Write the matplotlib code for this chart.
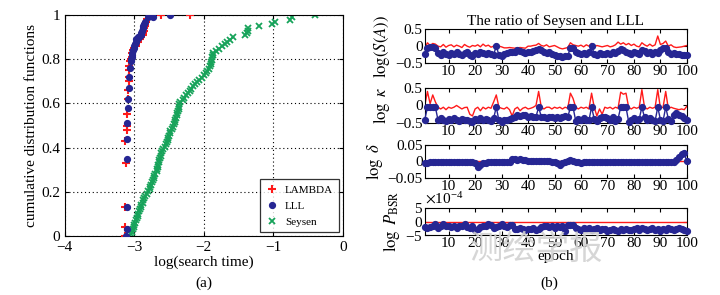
import numpy as np
import matplotlib
matplotlib.use("Agg")
import matplotlib.pyplot as plt
from matplotlib.ticker import ScalarFormatter

plt.rcParams['font.family'] = ['Liberation Serif', 'DejaVu Serif']
plt.rcParams['mathtext.fontset'] = 'stix'

# ---------------- data: (a) CDF of log(search time) ----------------
lambda_x = [-3.14, -3.14, -3.13, -3.12, -3.13, -3.11, -3.11, -3.10, -3.09, -3.09,
            -3.08, -3.08, -3.07, -3.07, -3.06, -3.05, -3.04, -3.03, -3.02, -3.00,
            -2.98, -2.97, -2.94, -2.92, -2.90, -2.88, -2.87, -2.86, -2.86, -2.85,
            -2.84, -2.83, -2.82, -2.78, -2.62, -2.20]
lambda_cdf = [0.00, 0.04, 0.13, 0.33, 0.43, 0.48, 0.50, 0.55, 0.62, 0.66,
              0.70, 0.72, 0.75, 0.77, 0.79, 0.80, 0.81, 0.83, 0.84, 0.85,
              0.86, 0.87, 0.88, 0.89, 0.90, 0.91, 0.92, 0.93, 0.94, 0.95,
              0.96, 0.97, 0.98, 1.00, 1.00, 1.00]

lll_x = [-3.12, -3.11, -3.10, -3.10, -3.10, -3.10, -3.09, -3.09, -3.08, -3.07,
         -3.06, -3.05, -3.05, -3.04, -3.03, -3.03, -3.02, -3.01, -3.00, -2.99,
         -2.98, -2.97, -2.96, -2.94, -2.93, -2.91, -2.90, -2.89, -2.88, -2.87,
         -2.86, -2.85, -2.80, -2.73, -2.49]
lll_cdf = [0.00, 0.03, 0.13, 0.35, 0.44, 0.51, 0.58, 0.62, 0.67, 0.72,
           0.76, 0.79, 0.80, 0.81, 0.82, 0.83, 0.84, 0.85, 0.86, 0.87,
           0.88, 0.89, 0.89, 0.90, 0.90, 0.91, 0.92, 0.93, 0.94, 0.95,
           0.96, 0.97, 0.99, 0.99, 1.00]

seysen_x = [-3.07, -3.05, -3.03, -3.02, -3.01, -3.00, -2.99, -2.97, -2.96, -2.95,
            -2.94, -2.93, -2.92, -2.91, -2.90, -2.88, -2.87, -2.86, -2.84, -2.82,
            -2.80, -2.78, -2.77, -2.76, -2.75, -2.73, -2.72, -2.71, -2.70, -2.68,
            -2.67, -2.66, -2.66, -2.65, -2.64, -2.63, -2.62, -2.61, -2.60, -2.58,
            -2.56, -2.55, -2.53, -2.52, -2.51, -2.50, -2.49, -2.48, -2.46, -2.44,
            -2.43, -2.42, -2.41, -2.40, -2.39, -2.38, -2.37, -2.36, -2.36, -2.35,
            -2.34, -2.30, -2.28, -2.25, -2.22, -2.20, -2.18, -2.15, -2.12, -2.10,
            -2.07, -2.03, -2.00, -1.97, -1.95, -1.93, -1.91, -1.90, -1.89, -1.88,
            -1.88, -1.87, -1.86, -1.82, -1.78, -1.74, -1.70, -1.66, -1.62, -1.58,
            -1.40, -1.38, -1.37, -1.36, -1.20, -1.02, -0.98, -0.76, -0.73, -0.40]
seysen_cdf = list(np.arange(len(seysen_x)) / (len(seysen_x) - 1))

# ---------------- data: (b) ratio of Seysen and LLL ----------------
epoch = list(range(1, 101))

sA_lll = [-0.22, -0.05, -0.02, -0.03, -0.05, -0.20, -0.25, -0.18, -0.22, -0.26,
          -0.20, -0.24, -0.18, -0.22, -0.25, -0.20, -0.18, -0.26, -0.28, -0.20,
          -0.22, -0.18, -0.20, -0.24, -0.20, -0.22, -0.25, 0.00, -0.26, -0.28,
          -0.22, -0.20, -0.18, -0.16, -0.18, -0.12, -0.15, -0.18, -0.20, -0.16,
          -0.18, -0.14, -0.10, -0.08, -0.12, -0.16, -0.20, -0.18, -0.22, -0.25,
          -0.28, -0.30, -0.32, -0.30, -0.28, -0.06, -0.06, -0.18, -0.20, -0.22,
          -0.20, -0.22, -0.18, 0.00, -0.22, -0.25, -0.20, -0.22, -0.24, -0.20,
          -0.22, -0.18, -0.20, -0.14, -0.08, -0.12, -0.18, -0.20, -0.22, -0.18,
          -0.20, -0.24, -0.10, -0.14, -0.20, -0.18, -0.22, -0.16, -0.20, -0.12,
          -0.05, -0.04, -0.18, -0.22, -0.20, -0.24, -0.22, -0.26, -0.25, -0.27]
sA_lambda = [-0.05, 0.10, 0.02, 0.08, 0.06, 0.00, -0.02, 0.05, -0.03, 0.02,
             0.04, -0.02, 0.03, 0.00, -0.04, 0.05, 0.00, -0.03, 0.02, 0.00,
             0.04, -0.02, 0.06, 0.00, 0.03, -0.03, 0.00, 0.06, 0.00, -0.02,
             -0.05, -0.05, -0.04, -0.05, -0.06, -0.05, -0.04, -0.05, -0.06, 0.00,
             0.00, 0.02, 0.03, 0.08, 0.02, 0.00, 0.04, -0.02, 0.00, 0.02,
             -0.02, -0.06, -0.08, -0.06, -0.04, 0.10, 0.04, 0.02, 0.00, 0.03,
             -0.02, 0.04, 0.00, 0.08, -0.02, 0.02, 0.00, -0.02, 0.00, 0.02,
             -0.02, 0.00, 0.04, 0.12, 0.06, 0.10, 0.04, 0.08, 0.02, 0.06,
             0.00, -0.02, 0.10, 0.04, 0.00, 0.06, 0.00, 0.04, 0.30, 0.05,
             0.08, 0.15, 0.00, 0.04, -0.02, -0.04, -0.03, -0.02, 0.00, 0.02]

kappa_lll = [-0.40, -0.05, -0.05, -0.05, -0.05, -0.42, -0.36, -0.40, -0.44, -0.38,
             -0.42, -0.36, -0.40, -0.44, -0.38, -0.40, -0.42, -0.44, -0.46, -0.38,
             -0.40, -0.36, -0.42, -0.38, -0.40, -0.44, -0.36, -0.05, -0.42, -0.46,
             -0.40, -0.42, -0.38, -0.36, -0.32, -0.28, -0.30, -0.26, -0.28, -0.32,
             -0.30, -0.34, -0.32, -0.05, -0.32, -0.34, -0.36, -0.32, -0.34, -0.36,
             -0.34, -0.36, -0.32, -0.30, -0.34, -0.05, -0.05, -0.44, -0.38, -0.42,
             -0.36, -0.40, -0.42, -0.05, -0.38, -0.44, -0.36, -0.32, -0.34, -0.36,
             -0.40, -0.34, -0.44, -0.38, -0.05, -0.05, -0.05, -0.46, -0.40, -0.36,
             -0.42, -0.38, -0.05, -0.34, -0.40, -0.36, -0.42, -0.44, -0.05, -0.40,
             -0.44, -0.05, -0.38, -0.44, -0.28, -0.22, -0.26, -0.30, -0.36, -0.40]
kappa_lambda = [0.00, 0.40, 0.05, 0.30, 0.10, -0.05, -0.10, -0.05, -0.12, -0.05,
                -0.08, -0.05, 0.00, -0.05, -0.10, -0.06, -0.05, -0.25, -0.30, -0.10,
                -0.05, -0.15, -0.05, -0.10, -0.05, -0.08, 0.10, 0.30, -0.05, -0.08,
                -0.10, -0.05, -0.12, -0.30, -0.10, -0.05, -0.15, -0.08, -0.05, -0.10,
                -0.08, -0.05, 0.00, 0.40, -0.05, -0.10, -0.05, -0.05, -0.10, -0.05,
                -0.08, -0.05, -0.10, -0.05, -0.08, 0.35, 0.20, -0.05, -0.10, -0.05,
                -0.08, -0.05, -0.10, 0.35, -0.05, -0.30, -0.10, -0.25, -0.05, -0.08,
                -0.05, -0.10, -0.05, -0.08, 0.38, 0.32, 0.35, -0.05, -0.10, -0.05,
                -0.08, -0.05, 0.45, -0.05, -0.10, -0.05, -0.08, -0.05, 0.45, -0.08,
                -0.05, 0.40, -0.10, -0.05, -0.08, -0.10, -0.12, -0.10, -0.12, -0.02]

delta_lll = [-0.006, -0.004, -0.003, -0.002, -0.002, -0.002, -0.002, -0.002, -0.002, -0.002,
             -0.002, -0.002, -0.002, -0.002, -0.002, -0.002, -0.002, -0.002, -0.002, -0.006,
             -0.018, -0.012, -0.006, -0.004, -0.003, -0.003, -0.003, -0.003, -0.003, -0.003,
             -0.003, -0.003, -0.002, 0.008, 0.006, 0.005, 0.006, 0.005, 0.003, 0.002,
             0.001, 0.001, 0.001, 0.001, 0.000, 0.000, 0.000, 0.000, -0.001, -0.002,
             -0.004, -0.010, -0.005, -0.002, 0.000, 0.003, 0.002, -0.002, -0.003, -0.006,
             -0.002, -0.002, -0.002, -0.002, -0.002, -0.002, -0.002, -0.002, -0.002, -0.002,
             -0.002, -0.002, -0.002, -0.002, -0.002, -0.002, -0.002, -0.002, -0.002, -0.002,
             -0.002, -0.002, -0.002, -0.002, -0.002, -0.002, -0.002, -0.002, -0.002, -0.002,
             -0.002, -0.002, -0.002, -0.002, -0.002, 0.004, 0.012, 0.022, 0.024, 0.000]
delta_lambda = [0.0] * 100

bsr_lll = [-2.0, -2.2, -2.0, -1.8, -1.0, -2.5, -1.5, -1.0, -1.5, -1.8,
           -2.0, -1.6, -2.2, -1.8, -1.5, -1.0, -2.0, -2.4, -1.8, -3.0,
           -2.6, -2.0, -1.8, -1.5, -1.0, -1.2, -2.4, -2.0, -1.6, -1.0,
           -1.5, -2.0, -1.4, -1.2, -2.6, -2.8, -2.4, -2.6, -3.0, -2.6,
           -2.8, -2.4, -3.0, -2.6, -2.0, -1.8, -1.5, -2.0, -1.8, -2.2,
           -1.6, -2.0, -1.5, -3.5, -1.2, -1.4, -1.2, -2.2, -2.6, -3.0,
           -2.4, -2.8, -2.2, -3.0, -2.6, -2.4, -3.2, -2.8, -2.6, -3.4,
           -3.0, -2.8, -3.2, -3.4, -2.8, -3.0, -2.6, -3.2, -3.0, -2.6,
           -2.4, -3.0, -2.2, -2.8, -3.2, -2.6, -2.4, -3.0, -2.8, -3.4,
           -2.6, -3.0, -2.4, -2.8, -3.2, -2.6, -2.2, -2.8, -3.0, -3.4]
bsr_lambda = [0.0] * 100
bsr_scale = 1e-4

# ---------------- styling ----------------
RED = '#ff1a1a'
BLUE = '#262693'
GREEN = '#17a35a'
FS = 11

fig = plt.figure(figsize=(7.2, 2.95), dpi=100)

# (a)
ax = fig.add_axes([0.090, 0.200, 0.386, 0.749])
ax.plot(lambda_x, lambda_cdf, '+', color=RED, ms=6, mew=1.5, label='LAMBDA', zorder=3)
ax.plot(lll_x, lll_cdf, 'o', color=BLUE, ms=4.2, mec=BLUE, label='LLL', zorder=4)
ax.plot(seysen_x, seysen_cdf, 'x', color=GREEN, ms=3.8, mew=1.3, label='Seysen', zorder=2)
ax.set_xlim(-4, 0)
ax.set_ylim(0, 1)
ax.set_xticks([-4, -3, -2, -1, 0])
ax.set_xticklabels(['\u22124', '\u22123', '\u22122', '\u22121', '0'])
ax.set_yticks([0, 0.2, 0.4, 0.6, 0.8, 1])
ax.set_yticklabels(['0', '0.2', '0.4', '0.6', '0.8', '1'])
ax.grid(True, linestyle=(0, (1, 2.5)), color='black', linewidth=0.8)
ax.tick_params(direction='in', top=True, right=True, labelsize=FS, length=3)
ax.set_xlabel('log(search time)', fontsize=FS, labelpad=1)
ax.set_ylabel('cumulative distribution functions', fontsize=FS, labelpad=2)
leg = ax.legend(loc='lower right', fontsize=8, frameon=True, fancybox=False,
                edgecolor='black', borderaxespad=0.35, handletextpad=0.5,
                handlelength=1.3, borderpad=0.5, labelspacing=0.55, numpoints=1)
leg.get_frame().set_linewidth(0.9)
fig.text(0.283, 0.04, '(a)', ha='center', va='center', fontsize=FS)

# (b)
L, W = 0.590, 0.364
panels = [
    (0.786, 0.115, sA_lll, sA_lambda, (-0.5, 0.5), [-0.5, 0, 0.5], ['\u22120.5', '0', '0.5'], r'$\log(S(A))$'),
    (0.583, 0.119, kappa_lll, kappa_lambda, (-0.5, 0.5), [-0.5, 0, 0.5], ['\u22120.5', '0', '0.5'], r'$\log\ \kappa$'),
    (0.397, 0.112, delta_lll, delta_lambda, (-0.05, 0.05), [-0.05, 0, 0.05], ['\u22120.05', '0', '0.05'], r'$\log\ \delta$'),
]
axes_b = []
for (b, h, blue, red, yl, yt, ytl, ylab) in panels:
    a = fig.add_axes([L, b, W, h])
    a.plot(epoch, red, '-', color=RED, lw=1.0, zorder=2)
    a.plot(epoch, blue, 'o-', color=BLUE, ms=4.2, lw=1.0, zorder=3, clip_on=False)
    a.set_xlim(1, 100)
    a.set_ylim(*yl)
    a.set_yticks(yt)
    a.set_yticklabels(ytl)
    a.set_xticks(range(10, 101, 10))
    a.tick_params(direction='in', top=True, right=True, labelsize=FS, length=3, pad=1.5)
    a.set_ylabel(ylab, fontsize=FS + 1, labelpad=2)
    axes_b.append(a)
axes_b[0].set_title('The ratio of Seysen and LLL', fontsize=FS, pad=3)

a4 = fig.add_axes([L, 0.203, W, 0.092])
a4.plot(epoch, np.array(bsr_lambda) * bsr_scale, '-', color=RED, lw=1.0, zorder=2)
a4.plot(epoch, np.array(bsr_lll) * bsr_scale, 'o-', color=BLUE, ms=4.2, lw=1.0, zorder=3, clip_on=False)
a4.set_xlim(1, 100)
a4.set_ylim(-5e-4, 5e-4)
a4.set_yticks([-5e-4, 0, 5e-4])
fmt = ScalarFormatter(useMathText=True)
fmt.set_powerlimits((-3, 3))
a4.yaxis.set_major_formatter(fmt)
a4.set_xticks(range(10, 101, 10))
a4.tick_params(direction='in', top=True, right=True, labelsize=FS, length=3, pad=1.5)
a4.yaxis.get_offset_text().set_fontsize(FS)
a4.set_ylabel(r'$\log\ P_{\rm BSR}$', fontsize=FS + 1, labelpad=2)
a4.set_xlabel('epoch', fontsize=FS, labelpad=0)
fig.text(0.763, 0.04, '(b)', ha='center', va='center', fontsize=FS)

# watermark
fig.text(0.745, 0.155, '测绘学报', ha='center', va='center', fontsize=24,
         color='#d2d2d2', family=['Noto Sans CJK SC', 'DejaVu Sans'], zorder=0, alpha=0.9)

fig.savefig('out.png', dpi=100)
